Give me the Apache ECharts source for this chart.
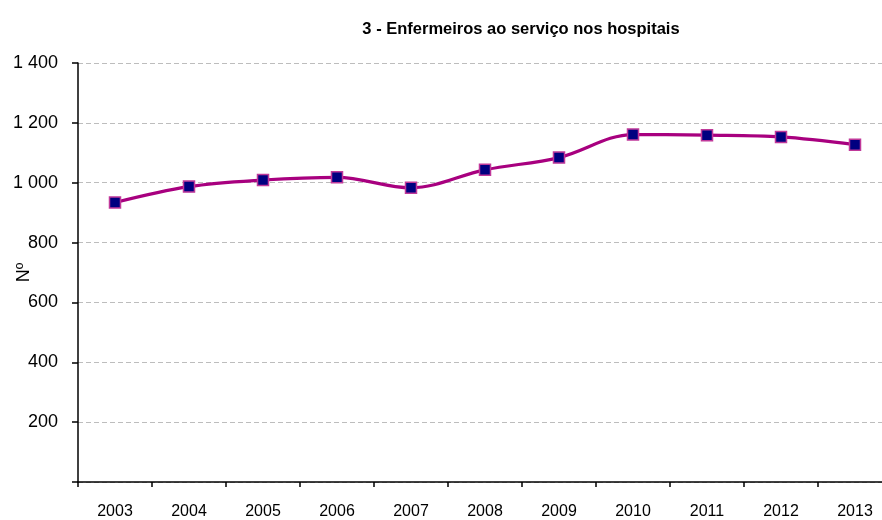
<!DOCTYPE html>
<html>
<head>
<meta charset="utf-8">
<script src="https://cdn.jsdelivr.net/npm/echarts@6/dist/echarts.min.js"></script>
<style>
  html, body { margin: 0; padding: 0; background: #fff; }
  #chart { width: 882px; height: 520px; }
</style>
</head>
<body>
<div id="chart"></div>
<script>
const years = ['2003', '2004', '2005', '2006', '2007', '2008', '2009', '2010', '2011', '2012', '2013'];
const nurses = [934, 987, 1009, 1018, 983, 1043, 1084, 1161, 1159, 1153, 1127];

const chart = echarts.init(document.getElementById('chart'));

const fontFamily = 'Arial, "Liberation Sans", sans-serif';

chart.setOption({
  animation: false,
  title: {
    text: '3 - Enfermeiros ao serviço nos hospitais',
    left: 516,
    textAlign: 'center',
    top: 16,
    textStyle: { fontFamily, fontSize: 16.5, fontWeight: 'bold', color: '#000' }
  },
  grid: { left: 78, right: -10, top: 63, bottom: 38, outerBoundsMode: 'none' },
  xAxis: {
    type: 'category',
    data: years,
    boundaryGap: true,
    axisLine: { lineStyle: { color: '#000', width: 1.5 } },
    axisTick: { show: true, length: 5, lineStyle: { color: '#000', width: 1.5 } },
    axisLabel: { color: '#000', fontFamily, fontSize: 16, margin: 22 }
  },
  yAxis: {
    type: 'value',
    min: 0,
    max: 1400,
    interval: 200,
    name: 'Nº',
    nameLocation: 'middle',
    nameGap: 45,
    nameRotate: 90,
    nameMoveOverlap: false,
    nameTextStyle: { color: '#000', fontFamily, fontSize: 18 },
    axisLine: { show: true, lineStyle: { color: '#000', width: 1.5 } },
    axisTick: { show: true, length: 6, lineStyle: { color: '#000', width: 1.5 } },
    axisLabel: {
      color: '#000',
      fontFamily,
      fontSize: 18,
      margin: 20,
      formatter: (v) => (v === 0 ? '' : String(v).replace(/\B(?=(\d{3})+(?!\d))/g, ' '))
    },
    splitLine: { show: true, lineStyle: { color: '#bdbdbd', type: [5, 3], width: 1 } }
  },
  series: [{
    type: 'line',
    data: nurses,
    smooth: 0.35,
    symbol: 'rect',
    symbolSize: 11,
    lineStyle: { color: '#a8007f', width: 3.2 },
    itemStyle: { color: '#000080', borderColor: '#c0399a', borderWidth: 1.5 }
  }]
});
</script>
</body>
</html>
